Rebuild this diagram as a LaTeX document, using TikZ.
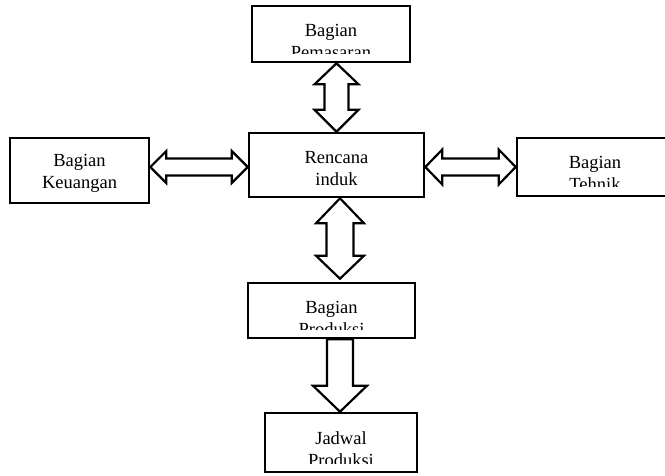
\documentclass[tikz,border=0pt]{standalone}
\usepackage{fontspec}
\setmainfont{Liberation Serif}
\usetikzlibrary{calc}
\tikzset{
  box/.style={draw=black, line width=2.6pt, fill=white, inner sep=0pt},
  lbl/.style={inner sep=0pt, align=center, font=\fontsize{18.5}{22}\selectfont},
  conn/.style={draw=black, line width=2.2pt, fill=white, line join=miter},
}
% box with a two-line label whose second line is cut off near the bottom edge
\newcommand\labelbox[7]{% name, centre, width, height, text, cut, text offset
  \node[box, minimum width=#3pt, minimum height=#4pt] (#1) at #2 {};
  \begin{scope}
    \clip ([xshift=1.5pt,yshift=-1.5pt]#1.north west) rectangle ([xshift=-1.5pt,yshift=#6pt]#1.south east);
    \node[lbl, anchor=north] at ([yshift=-#7pt]#1.north) {#5};
  \end{scope}}
\begin{document}
\begin{tikzpicture}[x=1pt, y=-1pt]
  \clip (0,0) rectangle (665,475);
  \fill[white] (0,0) rectangle (665,475);

  % boxes
  \labelbox{pem}{(331,34)}{158}{56}{Bagian\\Pemasaran}{10}{19.5}
  \labelbox{keu}{(79.5,170.5)}{139}{65}{Bagian\\Keuangan}{1.5}{17.5}
  \labelbox{ren}{(336.5,165)}{175}{64}{Rencana\\induk}{1.5}{19}
  \labelbox{teh}{(595,167)}{156}{58}{Bagian\\Tehnik}{11}{19}
  \labelbox{pro}{(331.5,310.5)}{167}{55}{Bagian\\Produksi}{10}{19}
  \labelbox{jad}{(341,442.5)}{152}{59}{Jadwal\\Produksi}{10}{19.5}

  % Pemasaran <-> Rencana
  \path[conn] let \p1=(pem.south), \p2=(ren.north) in
    (\x2,\y1) -- (\x2+22pt,\y1-21pt) -- (\x2+12pt,\y1-21pt) -- (\x2+12pt,\y2+22pt)
    -- (\x2+22pt,\y2+22pt) -- (\x2,\y2) -- (\x2-22pt,\y2+22pt) -- (\x2-12pt,\y2+22pt)
    -- (\x2-12pt,\y1-21pt) -- (\x2-22pt,\y1-21pt) -- cycle;

  % Rencana <-> Produksi
  \path[conn] let \p1=(ren.south), \p2=(pro.north), \n1={\x1+3.5pt}, \n2={\y2+3pt} in
    (\n1,\y1) -- (\n1+24pt,\y1-25pt) -- (\n1+13.5pt,\y1-25pt) -- (\n1+13.5pt,\n2+23pt)
    -- (\n1+24pt,\n2+23pt) -- (\n1,\n2) -- (\n1-24pt,\n2+23pt) -- (\n1-13.5pt,\n2+23pt)
    -- (\n1-13.5pt,\y1-25pt) -- (\n1-24pt,\y1-25pt) -- cycle;

  % Keuangan <-> Rencana
  \path[conn] let \p1=(keu.east), \p2=(ren.west), \n1={\y2-2pt} in
    (\x1,\n1) -- (\x1+16pt,\n1+16pt) -- (\x1+16pt,\n1+8.5pt) -- (\x2-16pt,\n1+8.5pt)
    -- (\x2-16pt,\n1+16pt) -- (\x2,\n1) -- (\x2-16pt,\n1-16pt) -- (\x2-16pt,\n1-8.5pt)
    -- (\x1+16pt,\n1-8.5pt) -- (\x1+16pt,\n1-16pt) -- cycle;

  % Rencana <-> Tehnik
  \path[conn] let \p1=(ren.east), \p2=(teh.west), \n1={\y1-2pt} in
    (\x1,\n1) -- (\x1+17pt,\n1+17.5pt) -- (\x1+17pt,\n1+8.5pt) -- (\x2-17pt,\n1+8.5pt)
    -- (\x2-17pt,\n1+17.5pt) -- (\x2,\n1) -- (\x2-17pt,\n1-17.5pt) -- (\x2-17pt,\n1-8.5pt)
    -- (\x1+17pt,\n1-8.5pt) -- (\x1+17pt,\n1-17.5pt) -- cycle;

  % Produksi -> Jadwal
  \path[conn] let \p1=(pro.south), \p2=(jad.north), \n1={\x2-1pt} in
    (\n1-13pt,\y1) -- (\n1+13pt,\y1) -- (\n1+13pt,\y2+26pt) -- (\n1+27pt,\y2+26pt)
    -- (\n1,\y2) -- (\n1-27pt,\y2+26pt) -- (\n1-13pt,\y2+26pt) -- cycle;
\end{tikzpicture}
\end{document}
